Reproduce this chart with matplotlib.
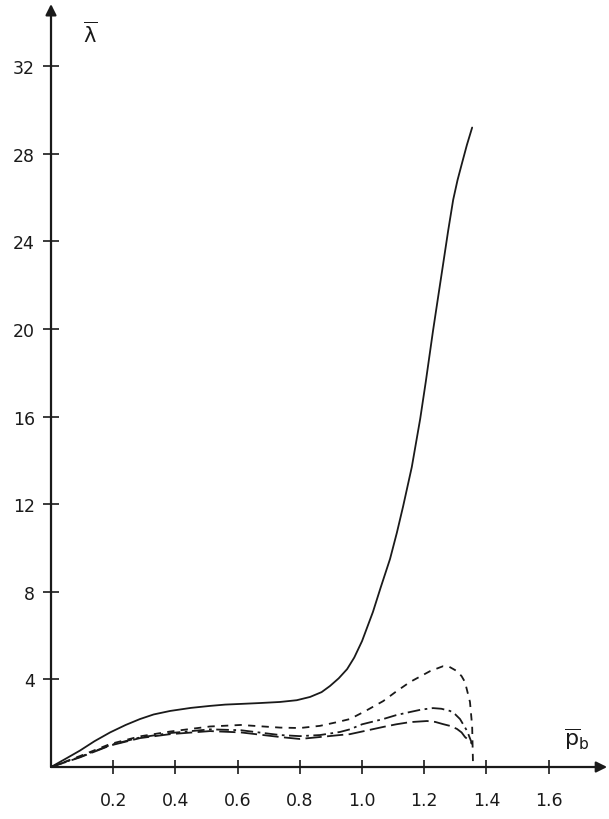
import matplotlib
matplotlib.use("Agg")
import matplotlib.pyplot as plt

plt.rcParams['font.family'] = ['DejaVu Sans']
plt.rcParams['mathtext.default'] = 'regular'

# solid curve
x_solid = [0.0, 0.05, 0.093, 0.14, 0.19, 0.24, 0.286, 0.33, 0.383, 0.45,
           0.511, 0.56, 0.608, 0.67, 0.736, 0.79, 0.833, 0.87, 0.897, 0.925,
           0.952, 0.975, 1.0, 1.035, 1.06, 1.09, 1.112, 1.132, 1.16, 1.187,
           1.205, 1.228, 1.245, 1.26, 1.277, 1.293, 1.307, 1.32, 1.337, 1.354]
y_solid = [0.0, 0.4, 0.75, 1.18, 1.58, 1.92, 2.19, 2.4, 2.56, 2.7,
           2.79, 2.85, 2.88, 2.92, 2.97, 3.05, 3.2, 3.42, 3.7, 4.05,
           4.47, 5.0, 5.75, 7.08, 8.2, 9.5, 10.7, 11.9, 13.7, 15.9,
           17.6, 19.9, 21.5, 22.9, 24.5, 25.9, 26.8, 27.5, 28.4, 29.2]

# short dashes
x_dash = [0.0, 0.093, 0.19, 0.286, 0.383, 0.511, 0.61, 0.736, 0.80, 0.865,
          0.92, 0.961, 1.01, 1.068, 1.11, 1.154, 1.219, 1.26, 1.28, 1.305,
          1.32, 1.331, 1.347, 1.354, 1.357]
y_dash = [0.0, 0.5, 1.05, 1.4, 1.62, 1.85, 1.92, 1.8, 1.78, 1.88,
          2.05, 2.19, 2.55, 3.01, 3.45, 3.88, 4.38, 4.6, 4.58, 4.38,
          4.15, 3.88, 2.97, 1.87, 0.0]

# dash-dot
x_dd = [0.0, 0.093, 0.19, 0.286, 0.383, 0.511, 0.61, 0.736, 0.80, 0.865,
        0.929, 0.961, 1.0, 1.068, 1.11, 1.154, 1.19, 1.228, 1.255, 1.283,
        1.30, 1.315, 1.338, 1.354]
y_dd = [0.0, 0.46, 1.0, 1.35, 1.55, 1.72, 1.68, 1.46, 1.41, 1.46,
        1.6, 1.72, 1.95, 2.19, 2.37, 2.51, 2.62, 2.69, 2.66, 2.56,
        2.4, 2.19, 1.64, 1.05]

# long dashes
x_long = [0.0, 0.093, 0.19, 0.286, 0.383, 0.511, 0.61, 0.736, 0.80, 0.865,
          0.929, 0.961, 1.0, 1.068, 1.11, 1.154, 1.209, 1.235, 1.26, 1.285,
          1.305, 1.32, 1.331, 1.345, 1.354]
y_long = [0.0, 0.44, 0.98, 1.32, 1.5, 1.64, 1.58, 1.37, 1.28, 1.37,
          1.46, 1.5, 1.62, 1.83, 1.95, 2.05, 2.1, 2.06, 1.96, 1.87,
          1.74, 1.58, 1.37, 1.2, 1.05]

xticks = [0.2, 0.4, 0.6, 0.8, 1.0, 1.2, 1.4, 1.6]
xlabels = ['0.2', '0.4', '0.6', '0.8', '1.0', '1.2', '1.4', '1.6']
yticks = [4, 8, 12, 16, 20, 24, 28, 32]
ylabels = ['4', '8', '12', '16', '20', '24', '28', '32']

ink = '#1a1a1a'

fig = plt.figure(figsize=(6.09, 8.20), dpi=100)
ax = fig.add_axes([0, 0, 1, 1])
ax.set_xlim(-0.164, 1.794)
ax.set_ylim(-2.374, 35.07)

for s in ax.spines.values():
    s.set_visible(False)
ax.spines['left'].set_position(('data', 0))
ax.spines['bottom'].set_position(('data', 0))

# axes drawn as arrows from the origin
arrow = dict(arrowstyle='-|>', lw=1.6, color=ink, mutation_scale=16,
             shrinkA=0, shrinkB=0)
ax.annotate('', xy=(1.788, 0), xytext=(0, 0), arrowprops=arrow)
ax.annotate('', xy=(0, 34.84), xytext=(0, 0), arrowprops=arrow)

ax.set_xticks(xticks)
ax.set_xticklabels(xlabels)
ax.set_yticks(yticks)
ax.set_yticklabels(ylabels)
ax.tick_params(axis='x', direction='inout', length=10, width=1.2, color=ink,
               pad=12, labelsize=12.5, labelcolor=ink)
ax.tick_params(axis='y', direction='inout', length=11, width=1.2, color=ink,
               pad=6, labelsize=12.5, labelcolor=ink)

ax.plot(x_solid, y_solid, color=ink, lw=1.3, solid_capstyle='round',
        solid_joinstyle='round')
ax.plot(x_dash, y_dash, color=ink, lw=1.3, dashes=(4, 3.5))
ax.plot(x_dd, y_dd, color=ink, lw=1.3, dashes=(7, 2.5, 1.5, 2.5))
ax.plot(x_long, y_long, color=ink, lw=1.3, dashes=(9, 3))

ax.text(0.125, 33.5, r'$\overline{\lambda}$', fontsize=15, color=ink,
        ha='center', va='center')
ax.text(1.69, 1.3, r'$\overline{p}_b$', fontsize=16, color=ink,
        ha='center', va='center')

fig.savefig('out.png', dpi=100, facecolor='white')
